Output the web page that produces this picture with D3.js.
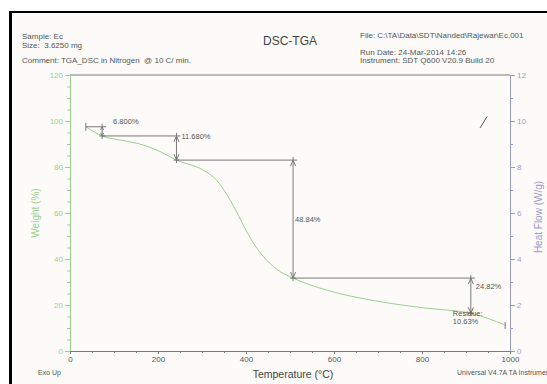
<!DOCTYPE html>
<html>
<head>
<meta charset="utf-8">
<script src="https://cdn.jsdelivr.net/npm/d3@7"></script>
<style>
  body { margin: 0; background: #fff; }
  svg text { font-family: "Liberation Sans", Arial, sans-serif; white-space: pre; }
</style>
</head>
<body>
<div id="chart"></div>
<script>
// TGA weight curve (temperature in C, weight in %)
const tempC     = [36, 73, 120, 166, 205, 242, 302, 333, 364, 380, 400, 420, 440, 470, 507, 583, 697, 811, 911, 989];
const weightPct = [97.5, 93.5, 91.5, 89.6, 86.7, 83.0, 78.7, 74.3, 65.6, 60, 52.5, 46, 41, 35.5, 31.7, 26.5, 21.7, 18.6, 16.4, 11.3];

// the little bit of heat flow curve that shows up top right
const hfTemp = [932, 948];
const hfWg   = [9.7, 10.2];

// step change markers: temperature of the arrow, level before, level after, label
const stepTemp   = [73, 242, 507, 911];
const stepFrom   = [97.5, 93.5, 83.0, 31.7];
const stepTo     = [93.5, 83.0, 31.7, 16.4];
const stepLabels = ["6.800%", "11.680%", "48.84%", "24.82%"];
const residueLabel = ["Residue:", "10.63%"];

const weightTicks = [0, 20, 40, 60, 80, 100, 120];
const heatTicks   = [0, 2, 4, 6, 8, 10, 12];
const tempTicks   = [0, 200, 400, 600, 800, 1000];

const width = 547, height = 384;
const green = "#9dcf8c", purple = "#9b9bc8", grey = "#7a7a7a", txt = "#555";

const svg = d3.select("#chart").append("svg")
    .attr("width", width).attr("height", height);

// frame
svg.append("rect").attr("x", 9).attr("y", 11).attr("width", width).attr("height", height)
    .attr("fill", "#fcfbf9");
svg.append("line").attr("x1", 9).attr("x2", width).attr("y1", 12).attr("y2", 12)
    .attr("stroke", "#000").attr("stroke-width", 2);
svg.append("line").attr("x1", 10.5).attr("x2", 10.5).attr("y1", 11).attr("y2", height)
    .attr("stroke", "#000").attr("stroke-width", 3);

const x = d3.scaleLinear().domain([0, 1000]).range([70, 510]);
const y = d3.scaleLinear().domain([0, 120]).range([351, 75]);
const yHF = d3.scaleLinear().domain([0, 12]).range([351, 75]);

// header text
const head = [
  ["Sample: Ec", 22, 39], ["Size:  3.6250 mg", 22, 48],
  ["Comment: TGA_DSC in Nitrogen  @ 10 C/ min.", 22, 63],
  ["File: C:\\TA\\Data\\SDT\\Nanded\\Rajewar\\Ec.001", 360, 38],
  ["Run Date: 24-Mar-2014 14:26", 360, 55],
  ["Instrument: SDT Q600 V20.9 Build 20", 360, 63]
];
svg.selectAll("text.head").data(head).enter().append("text")
    .attr("x", d => d[1]).attr("y", d => d[2])
    .attr("font-size", 8).attr("fill", txt).text(d => d[0]);
svg.append("text").attr("x", 290).attr("y", 45).attr("text-anchor", "middle")
    .attr("font-size", 12).attr("fill", "#444").text("DSC-TGA");

// top frame line of plot
svg.append("line").attr("x1", x(0)).attr("x2", x(1000)).attr("y1", y(120)).attr("y2", y(120))
    .attr("stroke", grey);

// axes
function styleAxis(g, col) {
  g.select(".domain").attr("stroke", col);
  g.selectAll(".tick line").attr("stroke", col);
  g.selectAll(".tick text").attr("fill", col).attr("font-size", 8)
      .attr("font-family", "Liberation Sans, Arial, sans-serif");
}

const gL = svg.append("g").attr("transform", `translate(${x(0)},0)`)
    .call(d3.axisLeft(y).tickValues(d3.range(0, 121, 5)).tickSize(3).tickFormat(""));
styleAxis(gL, green);
const gL2 = svg.append("g").attr("transform", `translate(${x(0)},0)`)
    .call(d3.axisLeft(y).tickValues(weightTicks).tickSize(5).tickPadding(2));
styleAxis(gL2, green);

const gR = svg.append("g").attr("transform", `translate(${x(1000)},0)`)
    .call(d3.axisRight(yHF).tickValues(d3.range(0, 13, 1)).tickSize(3).tickFormat(""));
styleAxis(gR, purple);
const gR2 = svg.append("g").attr("transform", `translate(${x(1000)},0)`)
    .call(d3.axisRight(yHF).tickValues(heatTicks).tickSize(5).tickPadding(2));
styleAxis(gR2, purple);

const gB = svg.append("g").attr("transform", `translate(0,${y(0)})`)
    .call(d3.axisBottom(x).tickValues(d3.range(0, 1001, 50)).tickSize(2).tickFormat(""));
styleAxis(gB, grey);
const gB2 = svg.append("g").attr("transform", `translate(0,${y(0)})`)
    .call(d3.axisBottom(x).tickValues(tempTicks).tickSize(3).tickPadding(2).tickFormat(d3.format("d")));
styleAxis(gB2, grey);
gB2.selectAll(".tick text").attr("fill", txt);

// axis titles
svg.append("text").attr("transform", "translate(39,213) rotate(-90)")
    .attr("text-anchor", "middle").attr("font-size", 10).attr("fill", green).text("Weight (%)");
svg.append("text").attr("transform", "translate(542,217) rotate(-90)")
    .attr("text-anchor", "middle").attr("font-size", 10).attr("fill", purple).text("Heat Flow (W/g)");
svg.append("text").attr("x", 293).attr("y", 378).attr("text-anchor", "middle")
    .attr("font-size", 10.5).attr("fill", "#444").text("Temperature (\u00B0C)");
svg.append("text").attr("x", 38).attr("y", 375).attr("font-size", 7)
    .attr("fill", txt).text("Exo Up");
svg.append("text").attr("x", 457).attr("y", 375).attr("font-size", 7)
    .attr("fill", txt).text("Universal V4.7A TA Instruments");

// weight curve
const pts = tempC.map((t, i) => [t, weightPct[i]]);
svg.append("path").datum(pts)
    .attr("fill", "none").attr("stroke", green).attr("stroke-width", 1)
    .attr("d", d3.line().x(d => x(d[0])).y(d => y(d[1])).curve(d3.curveMonotoneX));
// end tick
const last = pts[pts.length - 1];
svg.append("line").attr("x1", x(last[0])).attr("x2", x(last[0]))
    .attr("y1", y(last[1]) - 3).attr("y2", y(last[1]) + 4).attr("stroke", grey);

// heat flow fragment
svg.append("path").datum(hfTemp.map((t, i) => [t, hfWg[i]]))
    .attr("fill", "none").attr("stroke", "#555").attr("stroke-width", 1)
    .attr("d", d3.line().x(d => x(d[0])).y(d => yHF(d[1])));

// step markers
const mk = svg.append("g").attr("stroke", grey).attr("fill", "none").attr("stroke-width", 1);
// start of first level
mk.append("line").attr("x1", x(tempC[0])).attr("x2", x(tempC[0]))
    .attr("y1", y(stepFrom[0]) - 4).attr("y2", y(stepFrom[0]) + 4);
stepTemp.forEach((t, i) => {
  const prevT = i === 0 ? tempC[0] : stepTemp[i - 1];
  // level line before the step
  mk.append("line").attr("x1", x(prevT)).attr("x2", x(t) + 4)
      .attr("y1", y(stepFrom[i])).attr("y2", y(stepFrom[i]));
  const xa = x(t), y0 = y(stepFrom[i]), y1 = y(stepTo[i]);
  const ah = Math.min(6, (y1 - y0) / 3), aw = ah < 6 ? 1.5 : 2.5;
  mk.append("line").attr("x1", xa).attr("x2", xa).attr("y1", y0 - 3).attr("y2", y1 + 3);
  // arrow heads
  mk.append("path").attr("d", `M${xa - aw},${y0 + ah}L${xa},${y0}L${xa + aw},${y0 + ah}`);
  mk.append("path").attr("d", `M${xa - aw},${y1 - ah}L${xa},${y1}L${xa + aw},${y1 - ah}`);
  mk.append("line").attr("x1", xa - 3).attr("x2", xa + 3).attr("y1", y1).attr("y2", y1);
  // label
  let lx = xa + 5, ly = (y0 + y1) / 2 + 3;
  if (i === 0) { lx = xa + 11; ly = y0 - 3; }
  if (i === 1) { ly = y0 + 3; }
  if (i === 2) { lx = xa + 2; }
  if (i === 3) { ly = y0 + 11; }
  svg.append("text").attr("x", lx).attr("y", ly)
      .attr("font-size", 7.5).attr("fill", txt).text(stepLabels[i]);
});
const lastStep = stepTemp.length - 1;
svg.selectAll("text.res").data(residueLabel).enter().append("text")
    .attr("x", x(stepTemp[lastStep]) - 18).attr("y", (d, i) => y(stepTo[lastStep]) + 3 + i * 8)
    .attr("font-size", 7.5).attr("fill", txt).text(d => d);
</script>
</body>
</html>
